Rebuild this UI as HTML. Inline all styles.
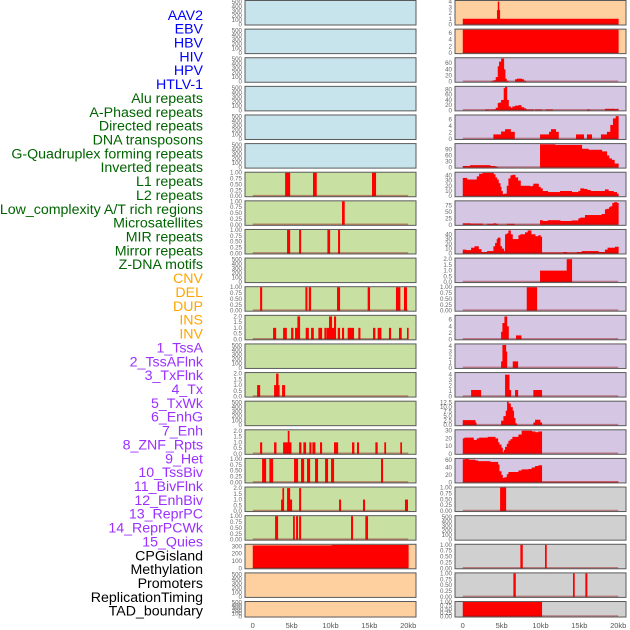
<!DOCTYPE html>
<html><head><meta charset="utf-8"><style>
html,body{margin:0;padding:0;background:#fff;}
svg{display:block;font-family:"Liberation Sans",sans-serif;}
</style></head><body>
<svg id="chart" width="630" height="630" viewBox="0 0 630 630" xmlns="http://www.w3.org/2000/svg"></svg>
<script>
// ---- labels ----
const trackLabels = ["AAV2","EBV","HBV","HIV","HPV","HTLV-1","Alu repeats","A-Phased repeats","Directed repeats","DNA transposons","G-Quadruplex forming repeats","Inverted repeats","L1 repeats","L2 repeats","Low_complexity A/T rich regions","Microsatellites","MIR repeats","Mirror repeats","Z-DNA motifs","CNV","DEL","DUP","INS","INV","1_TssA","2_TssAFlnk","3_TxFlnk","4_Tx","5_TxWk","6_EnhG","7_Enh","8_ZNF_Rpts","9_Het","10_TssBiv","11_BivFlnk","12_EnhBiv","13_ReprPC","14_ReprPCWk","15_Quies","CPGisland","Methylation","Promoters","ReplicationTiming","TAD_boundary"];
const labelGroups = ["virus","virus","virus","virus","virus","virus","rep","rep","rep","rep","rep","rep","rep","rep","rep","rep","rep","rep","rep","sv","sv","sv","sv","sv","hmm","hmm","hmm","hmm","hmm","hmm","hmm","hmm","hmm","hmm","hmm","hmm","hmm","hmm","hmm","oth","oth","oth","oth","oth"];
const xTicks = [0,5,10,15,20];
const xTickLabels = ["0","5kb","10kb","15kb","20kb"];

// ---- segment data [startKb, endKb, value] ----
const EMPTY = [];
const alu = [[4.16,4.76,1],[7.75,8.18,1],[15.34,15.81,1]];
const aphased = [[11.48,11.78,1]];
const directed = [[4.41,4.76,1],[5.96,6.17,1],[9.6,9.9,1],[10.97,11.18,1]];
const gquad = [[0.94,1.16,1],[6.77,6.98,1],[7.2,7.45,1],[10.84,11.18,1],[14.78,15.04,1],[18.42,18.94,1],[19.45,19.79,1]];
const inverted = [[2.61,2.96,1],[3.9,4.33,1],[4.93,5.18,1],[5.44,5.74,1],[5.74,6.04,2],[6.81,7.16,1],[7.5,7.8,1],[8.44,8.87,1],[9.21,9.47,1],[9.55,9.81,1],[9.81,10.15,2],[10.15,10.41,1],[10.45,10.67,2],[10.93,11.18,1],[11.48,11.7,1],[12.21,12.42,1],[12.42,12.98,1],[13.58,13.8,1],[15.47,15.72,1],[16.07,16.5,1],[17.52,17.74,1],[18.81,19.11,1],[19.84,20,1]];
const l2 = [[0.56,0.9,1],[2.74,3.0,1],[3.0,3.26,2],[3.26,3.4,1],[3.77,4.11,1]];
const micro = [[0.94,1.16,1],[2.74,3.0,1],[3.9,4.16,1],[4.16,4.5,1],[4.67,4.93,1],[4.5,4.67,2],[5.96,6.21,1],[6.51,6.81,1],[7.28,7.5,1],[7.67,8.01,1],[8.65,8.87,1],[10.45,10.93,1],[12.77,13.02,1],[13.41,13.62,1],[15.77,16.02,1],[16.92,17.1,1],[18.98,19.15,1]];
const mir = [[1.2,1.67,1],[2.14,2.57,1],[5.31,5.78,1],[6.21,6.56,1],[6.98,7.33,1],[8.01,8.35,1],[9.3,9.64,1],[10.07,10.41,1],[16.5,16.71,1]];
const mirror = [[3.64,3.9,1],[3.81,3.98,2],[4.41,4.76,2],[4.76,5.01,1],[5.96,6.17,2],[11.1,11.31,1],[14.18,14.4,1],[19.58,19.92,1]];
const zdna = [[2.87,3.21,1],[5.18,5.36,1],[5.57,5.78,1],[5.96,6.17,1],[12.64,12.85,1],[14.48,14.78,1]];
const cnv = [[0,10.15,313],[10.15,20,320]];
const ins = [[0,20,1],[4.4,4.75,2.5],[4.5,4.65,4]];
const inv = [[0,20,7]];
const tssA = [[3.64,3.94,2],[3.94,4.24,5],[4.24,4.5,15],[4.5,4.67,50],[4.67,4.93,65],[4.93,5.27,75],[5.27,5.44,40],[5.44,5.61,10],[5.61,5.87,3],[6.73,6.98,8],[6.98,7.58,10],[7.58,7.84,8],[7.84,8.1,3]];
const tssAFlnk = [[2.87,3.51,3],[3.64,4.24,3],[4.24,4.5,10],[4.5,4.67,28],[4.67,4.93,30],[4.93,5.27,40],[5.27,5.44,85],[5.44,5.66,90],[5.66,5.87,40],[5.87,6.13,15],[6.13,6.38,10],[6.38,6.73,15],[6.73,7.16,18],[7.16,7.5,20],[7.5,7.84,12],[7.84,8.1,8],[8.1,9.08,3],[9.3,10.15,3],[10.67,11.53,3],[15.98,16.32,3],[18.29,19.58,6],[19.58,19.79,4],[19.79,20,6]];
const txFlnk = [[3.94,4.93,1.4],[4.93,5.44,2.3],[5.44,6.13,3],[6.13,6.64,2.2],[9.94,11.1,1.4],[11.1,11.35,2.2],[11.35,11.95,3],[11.95,12.3,2.2],[14.57,15.55,1.4],[15.98,16.58,1.4],[17.78,18.55,1.4],[18.55,18.98,2.2],[18.98,19.32,4.3],[19.32,19.67,6.3],[19.67,20,7]];
const tx = [[0,0.94,8],[0.94,3.51,12],[3.51,4.16,8],[4.16,4.5,4],[9.94,11.87,115],[11.87,15.3,112],[15.3,16.15,93],[16.15,17.87,88],[17.87,18.51,80],[18.51,18.81,60],[18.81,19.15,45],[19.15,19.49,38],[19.49,20,20]];
const txWk = [[0,0.51,35],[0.51,1.8,32],[1.8,2.1,38],[2.1,2.53,43],[2.53,3.94,45],[3.94,4.16,42],[4.16,4.37,36],[4.37,4.58,32],[4.58,4.8,25],[4.8,4.93,18],[4.93,5.1,10],[5.1,5.36,4],[5.36,5.66,5],[5.66,5.87,20],[5.87,6.13,34],[6.13,6.38,40],[6.38,6.73,41],[6.73,7.07,36],[7.07,7.41,30],[7.41,8.65,20],[8.65,8.95,19],[8.95,9.08,20],[9.08,9.73,24],[9.73,9.98,18],[9.98,10.24,15],[10.24,10.93,10],[10.93,12.51,8],[12.51,14.01,10],[14.01,14.87,8],[14.87,15.12,10],[15.12,15.55,15],[15.55,15.98,14],[15.98,16.41,12],[16.41,18.29,10],[18.29,18.72,13],[18.72,19.37,10],[19.37,19.79,8],[19.79,20,5]];
const enhG = [[0,0.94,6],[0.94,2.53,5],[2.53,3.13,1],[3.13,3.94,4],[3.94,4.24,6],[4.24,4.5,4],[4.5,5.66,1],[5.66,6.64,4],[6.64,9.94,1],[9.94,10.24,18],[10.24,10.93,15],[10.93,12.51,18],[12.51,14.01,15],[14.01,14.87,17],[14.87,15.12,25],[15.12,15.72,28],[15.72,17.87,38],[17.87,18.29,42],[18.29,18.51,60],[18.51,18.81,62],[18.81,18.98,68],[18.98,19.24,72],[19.24,19.49,85],[19.49,19.79,88],[19.79,20,85]];
const enh = [[0,0.39,8],[0.39,1.07,7],[1.07,1.5,12],[1.5,2.01,15],[2.01,2.36,9],[2.36,3.13,3],[3.13,3.94,5],[3.94,4.16,15],[4.16,4.37,22],[4.37,4.5,30],[4.5,4.8,33],[4.8,5.01,15],[5.01,5.27,10],[5.27,5.44,5],[5.44,5.66,40],[5.66,5.87,42],[5.87,6.13,48],[6.13,6.38,40],[6.38,7.16,30],[7.16,7.41,38],[7.41,8.01,40],[8.01,8.35,44],[8.35,8.78,48],[8.78,9.3,40],[9.3,9.73,36],[9.73,9.98,38],[9.98,10.15,35],[10.15,12.94,2],[12.94,13.37,3],[13.37,14.65,2],[14.65,15.3,3],[15.3,17.44,5],[17.44,18.29,3],[18.29,18.63,8],[18.63,19.58,12],[19.58,20,14]];
const znf = [[9.94,13.37,1],[13.37,14.01,2]];
const het = [[8.23,9.51,1]];
const tssBiv = [[4.93,5.1,2.3],[5.1,5.36,5],[5.36,5.66,7],[5.66,5.87,4],[6.85,7.5,1.2]];
const bivFlnk = [[4.93,5.1,1.2],[5.1,5.53,4.2],[5.53,5.66,3],[6.43,7.07,1.2]];
const enhBiv = [[1.07,2.31,1.2],[5.44,5.96,4],[5.96,6.17,1.2],[6.73,7.07,1.2],[9.08,10.15,1.2]];
const reprPC = [[0,1.59,2.8],[1.59,1.72,1.5],[4.93,5.23,2.5],[5.23,5.53,5],[5.53,5.7,8],[5.7,5.87,13],[5.87,6.13,12],[6.13,6.38,10],[6.38,6.55,8],[6.55,6.73,4],[6.73,6.94,1],[9.08,9.3,1.5],[9.3,9.94,3],[9.94,10.15,1.5]];
const reprPCWk = [[0,0.21,20],[0.21,1.37,21],[1.37,1.8,18],[1.8,2.1,20],[2.1,3.21,21],[3.21,4.16,22],[4.16,4.5,20],[4.5,4.67,15],[4.67,4.93,12],[4.93,5.1,8],[5.1,5.27,2],[5.27,5.44,5],[5.44,5.66,9],[5.66,5.87,13],[5.87,6.13,17],[6.13,6.38,19],[6.38,7.16,22],[7.16,7.58,25],[7.58,8.87,30],[8.87,9.3,29],[9.3,9.73,28],[9.73,10.15,29]];
const quies = [[0,0.3,62],[0.3,0.73,63],[0.73,1.59,61],[1.59,1.93,59],[1.93,3.51,57],[3.51,4.5,55],[4.5,4.67,48],[4.67,4.93,30],[4.93,5.1,20],[5.1,5.36,12],[5.36,5.66,14],[5.66,5.87,22],[5.87,7.16,28],[7.16,7.58,32],[7.58,8.44,35],[8.44,8.87,36],[8.87,9.3,40],[9.3,9.73,44],[9.73,10.15,46],[10.15,20,2]];
const cpg = [[4.8,5.53,1]];
const promoters = [[7.41,7.67,1],[10.58,10.75,1]];
const replTiming = [[6.51,6.77,1],[14.18,14.35,1],[15.77,15.98,1]];
const tad = [[0,10.15,1]];

// ---- tick sets ----
const ticksEmpty = [0,100,200,300,400,500];
const ticks01 = [0,0.25,0.5,0.75,1];
const ticks02 = [0,0.5,1,1.5,2];

const BG = {virus:"#c7e4ec", rep:"#c8e1a3", sv:"#ffd09f", hmm:"#d5c6e3", oth:"#d0d0d0"};
const LBLC = {virus:"#0000ff", rep:"#006400", sv:"#ffa500", hmm:"#9b30ff", oth:"#000000"};

const panels = [
 [0,EMPTY,520,ticksEmpty,0],[1,EMPTY,520,ticksEmpty,0],[2,EMPTY,520,ticksEmpty,0],[3,EMPTY,520,ticksEmpty,0],[4,EMPTY,520,ticksEmpty,0],[5,EMPTY,520,ticksEmpty,0],
 [6,alu,1,ticks01,2],[7,aphased,1,ticks01,2],[8,directed,1,ticks01,2],[9,EMPTY,520,ticksEmpty,0],[10,gquad,1,ticks01,2],[11,inverted,2.05,ticks02,1],[12,EMPTY,520,ticksEmpty,0],[13,l2,2.05,ticks02,1],[14,EMPTY,520,ticksEmpty,0],[15,micro,2.05,ticks02,1],[16,mir,1,ticks01,2],[17,mirror,2.05,ticks02,1],[18,zdna,1,ticks01,2],
 [19,cnv,322,[0,100,200,300],0],[20,EMPTY,520,ticksEmpty,0],[21,EMPTY,520,ticksEmpty,0],
 [22,ins,4.1,[0,1,2,3,4],0],[23,inv,7,[0,2,4,6],0],[24,tssA,76,[0,20,40,60],0],[25,tssAFlnk,90,[0,20,40,60,80],0],[26,txFlnk,7.2,[0,2,4,6],0],[27,tx,116,[0,30,60,90],0],[28,txWk,45,[0,10,20,30,40],0],[29,enhG,91,[0,25,50,75],0],[30,enh,49,[0,10,20,30,40],0],[31,znf,2.05,ticks02,1],[32,het,1,ticks01,2],[33,tssBiv,7.2,[0,2,4,6],0],[34,bivFlnk,4.3,[0,1,2,3,4],0],[35,enhBiv,4.3,[0,1,2,3,4],0],[36,reprPC,13,[0,2.5,5,7.5,10,12.5],1],[37,reprPCWk,30.5,[0,10,20,30],0],[38,quies,63,[0,20,40,60],0],
 [39,cpg,1,ticks01,2],[40,EMPTY,520,ticksEmpty,0],[41,promoters,1,ticks01,2],[42,replTiming,1,ticks01,2],[43,tad,1,ticks01,2]
];

const NS = "http://www.w3.org/2000/svg";
const svg = document.getElementById('chart');
function mk(tag, attrs, parent){const e=document.createElementNS(NS,tag);for(const k in attrs)e.setAttribute(k,attrs[k]);(parent||svg).appendChild(e);return e;}
const rowTop = r => r*28.62 + 0.5;
const rowH = r => r===21 ? 15.5 : 24.5;
const colLeft = c => c ? 455 : 245;
const PW = 171;
const xScale = (kb,c) => colLeft(c) + (kb+1)/22*PW;

trackLabels.forEach((t,i)=>{
  const el = mk('text',{x:203,y:16+i*13.86,'text-anchor':'end','dominant-baseline':'middle','font-size':14.2,fill:LBLC[labelGroups[i]]});
  el.textContent = t;
  
  
});

panels.forEach((p,idx)=>{
  const [li, segs, ymax, ticks, dec] = p;
  const c = idx < 22 ? 0 : 1, r = idx % 22;
  const top = rowTop(r), h = rowH(r), L = colLeft(c);
  const bottom = top + h;
  const yScale = v => bottom - 0.5 - (v/ymax)*(h-1);
  const g = mk('g',{});
  
  
  const bg = mk('rect',{x:L,y:top,width:PW,height:h,fill:BG[labelGroups[li]]},g);
  
  
  segs.forEach(s=>{
    const x0 = xScale(s[0],c), x1 = xScale(s[1],c);
    const y = Math.max(top, yScale(s[2]));
    const b = mk('rect',{x:x0,y:y,width:Math.max(1.2,x1-x0+0.4),height:Math.max(0,bottom-0.5-y),fill:'#ff0000'},g);
    
    
  });
  if (segs.length){
    const bl = mk('line',{x1:xScale(0,c),x2:xScale(20,c),y1:bottom-1,y2:bottom-1,stroke:'rgba(150,20,20,0.45)','stroke-width':1.6},g);
    
    
  }
  const br = mk('rect',{x:L,y:top,width:PW,height:h,fill:'none',stroke:'#5a5a5a','stroke-width':1},g);
  
  
  ticks.forEach(t=>{
    const tl = mk('text',{x:L-3,y:yScale(t)+2,'text-anchor':'end','font-size':6.2,fill:'#666'},g);
    tl.textContent = dec ? t.toFixed(dec) : String(t);
    
    
  });
});

[0,1].forEach(c=>{
  xTicks.forEach((t,i)=>{
    const tl = mk('text',{x:xScale(t,c),y:628,'text-anchor':'middle','font-size':7.5,fill:'#555'});
    tl.textContent = xTickLabels[i];
    
    
  });
});
</script>
</body></html>
